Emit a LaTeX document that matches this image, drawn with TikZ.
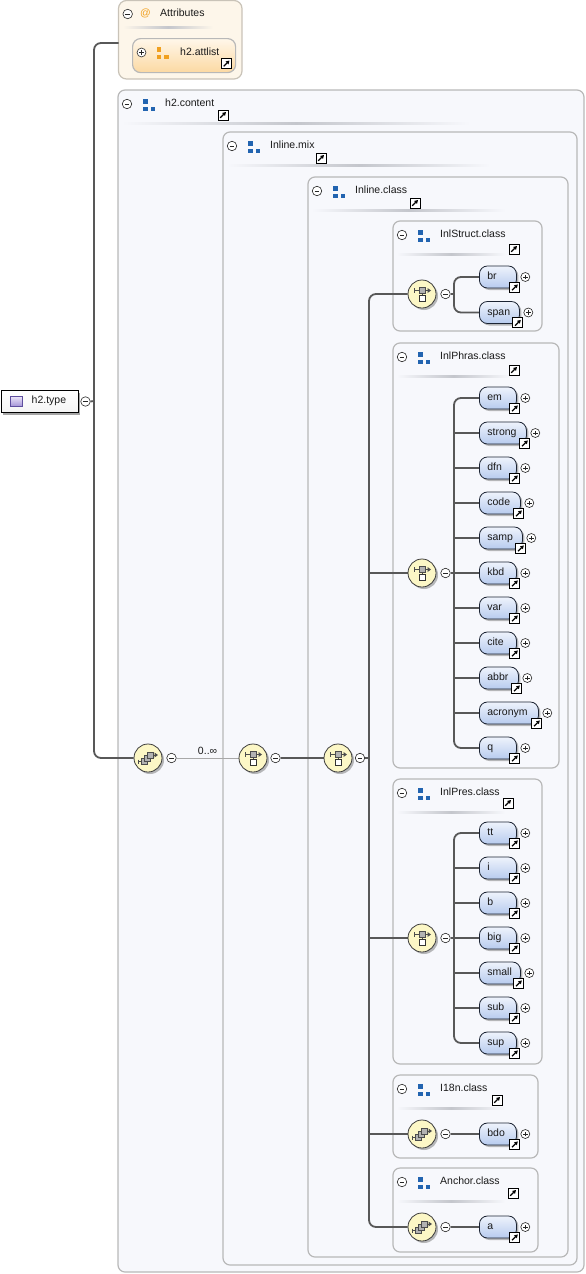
\documentclass[tikz,border=0pt]{standalone}
\usepackage{fontspec}
\setmainfont{Liberation Sans}
\usetikzlibrary{shadows,calc,arrows.meta}
\definecolor{boxbg}{HTML}{F7F8FC}
\definecolor{boxbd}{HTML}{B8B8B8}
\definecolor{sepc}{HTML}{C4C6CC}
\definecolor{attrbg}{HTML}{FDF6EA}
\definecolor{attrbd}{HTML}{C9C3B8}
\definecolor{altop}{HTML}{FFF7EA}
\definecolor{albot}{HTML}{FCD9A2}
\definecolor{eltop}{HTML}{EEF3FC}
\definecolor{elbot}{HTML}{B7CBEE}
\definecolor{elbd}{HTML}{1C2433}
\definecolor{compf}{HTML}{FCF7C6}
\definecolor{compbd}{HTML}{3C3C3C}
\definecolor{linec}{HTML}{585858}
\definecolor{thinc}{HTML}{A8A8A8}
\definecolor{clsblue}{HTML}{2264B0}
\definecolor{clsorange}{HTML}{F0A020}
\definecolor{txt}{HTML}{1A1A1A}
\definecolor{purtop}{HTML}{EEE8FA}
\definecolor{purbot}{HTML}{A696D8}
\definecolor{purbd}{HTML}{5E4E9E}
\pgfdeclarelayer{bg}
\pgfdeclarelayer{wires}
\pgfsetlayers{bg,wires,main}

\tikzset{
  grp/.style={draw=boxbd, fill=boxbg, rounded corners=7pt, line width=1.2pt},
  lbl/.style={text=txt, inner sep=0pt, text height=7.5pt, text depth=2pt},
  pmbase/.style={circle, draw=black!85, fill=white, minimum size=9.5pt, inner sep=0pt, line width=0.6pt},
  pmm/.style={pmbase, path picture={\draw[line width=0.7pt] ([xshift=-2.4pt]path picture bounding box.center) -- ([xshift=2.4pt]path picture bounding box.center);}},
  pmp/.style={pmbase, minimum size=9pt, path picture={\draw[line width=0.7pt] ([xshift=-2.3pt]path picture bounding box.center) -- ([xshift=2.3pt]path picture bounding box.center); \draw[line width=0.7pt] ([yshift=-2.3pt]path picture bounding box.center) -- ([yshift=2.3pt]path picture bounding box.center);}},
  lnk/.style={rectangle, draw=black, fill=white, minimum size=10pt, inner sep=0pt, line width=0.9pt,
    path picture={\draw[line width=1.2pt, -{Triangle[length=3.4pt,width=3.8pt]}] ([shift={(-2.8pt,-2.8pt)}]path picture bounding box.center) -- ([shift={(3pt,3pt)}]path picture bounding box.center);}},
  shd/.style={drop shadow={shadow xshift=2pt, shadow yshift=-2pt, fill=black!60, opacity=0.45}},
  elem/.style={rectangle, rounded corners=8pt, draw=elbd, line width=0.8pt, top color=eltop, bottom color=elbot,
    minimum height=22pt, inner xsep=8pt, inner ysep=0pt, anchor=west, text=txt, text height=7.5pt, text depth=2pt, shd},
  comp/.style={circle, draw=compbd, fill=compf, line width=0.8pt, minimum size=28pt, inner sep=0pt, shd},
  conn/.style={draw=linec, line width=1.8pt, rounded corners=7pt},
  thinconn/.style={draw=thinc, line width=0.8pt},
}

\newcommand\clsicon[3]{%
  \fill[#3] (#1-6,#2-6) rectangle (#1-1.5,#2-1.5);
  \fill[#3] (#1-6,#2+1.5) rectangle (#1-1.5,#2+6);
  \fill[#3] (#1+1.5,#2+1.5) rectangle (#1+6,#2+6);
}

\newcommand\grpbox[9]{%
  \begin{pgfonlayer}{bg}
    \draw[grp] (#2,#3) rectangle (#4,#5);
    \shade[left color=boxbg, right color=boxbg, middle color=sepc] (#2+4,#3+32) rectangle (#7,#3+34.5);
  \end{pgfonlayer}
  \node[pmm] (#1m) at (#2+9,#3+14) {};
  \clsicon{#2+31}{#3+15}{clsblue}
  \node[lbl, anchor=west] (#1t) at (#2+47,#3+14) {#6};
  \node[lnk] (#1l) at (#8,#9) {};
}

\newcommand\elnode[4]{%
  \node[elem, minimum width=#3pt] (#1) at (479,#2) {\makebox[\dimexpr #3pt-16pt\relax][l]{#4}};
  \node[pmp] (#1p) at ($(#1.east)+(8.5,0)$) {};
  \node[lnk] (#1l) at ($(#1.south east)+(-2,-1)$) {};
}

\newcommand\chicon[1]{%
  \begin{scope}[shift={(#1.center)}]
    \draw[black!70, line width=0.8pt] (-8,-3.5) -- (6,-3.5);
    \draw[black!70, line width=0.8pt] (-8,-6) -- (-8,-1);
    \fill[black!70] (9,-3.5) -- (5.5,-6) -- (5.5,-1) -- cycle;
    \draw[black!70, line width=0.7pt] (0,-0.5) -- (0,1.5);
    \draw[black!70, fill=gray!60, line width=0.6pt] (-3,-6.5) rectangle (3,-0.5);
    \draw[black!80, fill=white, line width=0.7pt] (-3,1.5) rectangle (3,7.5);
  \end{scope}}

\newcommand\stkicon[1]{%
  \begin{scope}[shift={(#1.center)}]
    \draw[black!70, line width=0.8pt] (-9.5,3.5) -- (-5,3.5);
    \draw[black!70, line width=0.8pt] (-9.5,1.5) -- (-9.5,5.5);
    \draw[black!70, line width=0.8pt] (4,-3) -- (7,-3);
    \fill[black!70] (10,-3) -- (6.5,-5.5) -- (6.5,-0.5) -- cycle;
    \draw[black!70, fill=gray!60, line width=0.6pt] (-6.5,0.5) rectangle (-1,6);
    \draw[black!70, fill=gray!60, line width=0.6pt] (-3.5,-2.5) rectangle (2,3);
    \draw[black!70, fill=gray!60, line width=0.6pt] (-0.5,-5.5) rectangle (5,0);
  \end{scope}}

\begin{document}
\begin{tikzpicture}[x=1pt, y=-1pt, font=\fontsize{10.5}{12}\selectfont]
\useasboundingbox (0,0) rectangle (586,1274);

% ---- Attributes
\begin{pgfonlayer}{bg}
  \draw[draw=attrbd, fill=attrbg, rounded corners=8pt, line width=1.2pt] (118.5,0.5) rectangle (242,79);
  \shade[left color=attrbg, right color=attrbg, middle color=sepc] (123,26) rectangle (213,28.5);
\end{pgfonlayer}
\node[pmm] (attrm) at (127.7,14) {};
\node[lbl, text=clsorange] (attrat) at (145.5,14) {@};
\node[lbl, anchor=west] (attrt) at (160,14) {Attributes};
\node[rectangle, rounded corners=8pt, draw=boxbd, line width=1.2pt, top color=altop, bottom color=albot,
      anchor=north west, minimum width=103pt, minimum height=34pt] (attlist) at (132,38) {};
\node[pmp] (attlistp) at (141.5,52.5) {};
\clsicon{162.5}{53}{clsorange}
\node[lbl, anchor=west] (attlistt) at (180,52.5) {h2.attlist};
\node[lnk] (attlistl) at (226.5,63.5) {};
\coordinate (attrin) at (118.5,43);

% ---- groups
\grpbox{gContent}{118}{90}{584}{1272}{h2.content}{470}{223}{115}
\grpbox{gMix}{223}{132}{577}{1265}{Inline.mix}{490}{321}{158}
\grpbox{gClass}{308}{177}{568}{1257}{Inline.class}{505}{415}{203}
\grpbox{gStruct}{393}{221}{542}{331}{InlStruct.class}{505}{514}{249}
\grpbox{gPhras}{393}{343}{559}{768}{InlPhras.class}{510}{514}{370}
\grpbox{gPres}{393}{779}{542}{1064}{InlPres.class}{505}{508}{803}
\grpbox{gI18n}{393}{1075}{538}{1158}{I18n.class}{505}{497}{1100}
\grpbox{gAnchor}{393}{1168}{538}{1252}{Anchor.class}{505}{513}{1193}

% ---- h2.type
\node[rectangle, draw=black, line width=0.8pt, top color=white, bottom color=black!4, anchor=north west,
      minimum width=77pt, minimum height=22pt, inner sep=0pt,
      drop shadow={shadow xshift=2.5pt, shadow yshift=-2.5pt, fill=black!70, opacity=0.5}] (h2type) at (0.5,390) {};
\shade[top color=purtop, bottom color=purbot, draw=purbd, line width=0.6pt] (10,396) rectangle (22,406);
\node[lbl, anchor=west] (h2typet) at (31.5,401) {h2.type};
\node[pmm] (h2typem) at (85.5,401.5) {};

% ---- compositors
\node[comp] (c1) at (148,758) {}; \stkicon{c1}
\node[pmm] (c1m) at (171.5,758) {};
\node[comp] (c2) at (253,758) {}; \chicon{c2}
\node[pmm] (c2m) at (275.5,758) {};
\node[comp] (c3) at (338,758) {}; \chicon{c3}
\node[pmm] (c3m) at (360,758) {};

\node[comp] (s1) at (422,294) {}; \chicon{s1}
\node[pmm] (s1m) at (445.5,294) {};
\node[comp] (s2) at (422,573) {}; \chicon{s2}
\node[pmm] (s2m) at (445.5,573) {};
\node[comp] (s3) at (422,938) {}; \chicon{s3}
\node[pmm] (s3m) at (445.5,938) {};
\node[comp] (s4) at (422,1134) {}; \stkicon{s4}
\node[pmm] (s4m) at (445.5,1134) {};
\node[comp] (s5) at (422,1227) {}; \stkicon{s5}
\node[pmm] (s5m) at (445.5,1227) {};

% ---- elements
\elnode{br}{277}{37}{br}
\elnode{span}{312.5}{40}{span}
\elnode{em}{398}{37}{em}
\elnode{strong}{433}{47}{strong}
\elnode{dfn}{468}{37}{dfn}
\elnode{code}{503}{41}{code}
\elnode{samp}{538}{43}{samp}
\elnode{kbd}{573}{37}{kbd}
\elnode{var}{608}{37}{var}
\elnode{cite}{643}{37}{cite}
\elnode{abbr}{678}{39}{abbr}
\elnode{acronym}{713}{59}{acronym}
\elnode{q}{748}{37}{q}
\elnode{tt}{833}{37}{tt}
\elnode{i}{868}{37}{i}
\elnode{b}{903}{37}{b}
\elnode{big}{938}{37}{big}
\elnode{small}{973}{41}{small}
\elnode{sub}{1008}{37}{sub}
\elnode{sup}{1043}{37}{sup}
\elnode{bdo}{1134}{37}{bdo}
\elnode{a}{1227}{37}{a}

% ---- connectors
\begin{pgfonlayer}{wires}
  \coordinate (tr) at (94,401);
  \draw[conn] (attrin) -| (tr) |- (c1.west);
  \draw[conn] (h2typem.east) -- (tr);
  \draw[thinconn] (c1m.east) -- node[lbl, above=1.5pt] (card) {0..∞} (c2.west);
  \draw[conn] (c2m.east) -- (c3.west);
  \coordinate (tr3) at (369,758);
  \draw[conn] (c3m.east) -- (tr3);
  \draw[conn] (s1.west) -| (tr3) |- (s5.west);
  \foreach \n in {s2,s3,s4} \draw[conn] (\n.west) -- (\n.west -| tr3);
  \coordinate (b1) at (454,294);
  \draw[conn] (s1m.east) -- (b1);
  \draw[conn] (br.west) -| (b1) |- (span.west);
  \coordinate (b2) at (454,573);
  \draw[conn] (s2m.east) -- (b2);
  \draw[conn] (em.west) -| (b2) |- (q.west);
  \foreach \n in {strong,dfn,code,samp,kbd,var,cite,abbr,acronym} \draw[conn] (\n.west) -- (\n.west -| b2);
  \coordinate (b3) at (454,938);
  \draw[conn] (s3m.east) -- (b3);
  \draw[conn] (tt.west) -| (b3) |- (sup.west);
  \foreach \n in {i,b,big,small,sub} \draw[conn] (\n.west) -- (\n.west -| b3);
  \draw[conn] (s4m.east) -- (bdo.west);
  \draw[conn] (s5m.east) -- (a.west);
\end{pgfonlayer}
\end{tikzpicture}
\end{document}
